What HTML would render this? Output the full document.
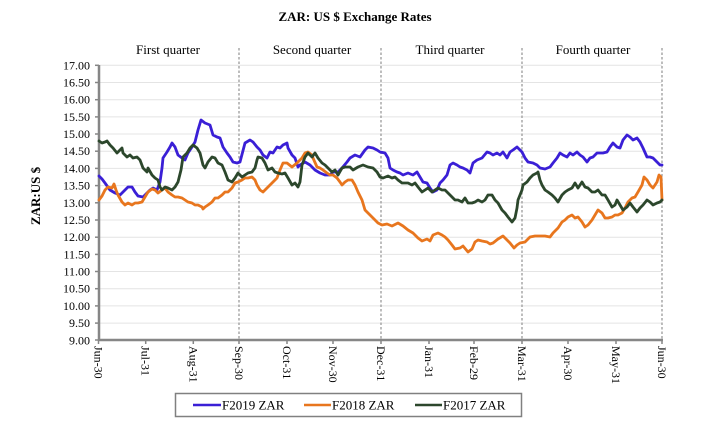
<!DOCTYPE html>
<html><head><meta charset="utf-8"><style>
html,body{margin:0;padding:0;background:#fff;}
svg{display:block;font-family:"Liberation Serif",serif;}
</style></head><body>
<svg width="710" height="434" viewBox="0 0 710 434" xmlns="http://www.w3.org/2000/svg">
<rect width="710" height="434" fill="#fff"/>
<text x="355" y="21" font-size="13" font-weight="bold" text-anchor="middle" fill="#000">ZAR: US $ Exchange Rates</text>
<!-- gridlines -->
<g stroke="#e4e4e4" stroke-width="1">
<line x1="99" x2="662" y1="65.3" y2="65.3"/><line x1="99" x2="662" y1="82.5" y2="82.5"/>
<line x1="99" x2="662" y1="99.7" y2="99.7"/><line x1="99" x2="662" y1="116.9" y2="116.9"/>
<line x1="99" x2="662" y1="134" y2="134"/><line x1="99" x2="662" y1="151.2" y2="151.2"/>
<line x1="99" x2="662" y1="168.4" y2="168.4"/><line x1="99" x2="662" y1="185.6" y2="185.6"/>
<line x1="99" x2="662" y1="202.8" y2="202.8"/><line x1="99" x2="662" y1="220" y2="220"/>
<line x1="99" x2="662" y1="237.2" y2="237.2"/><line x1="99" x2="662" y1="254.4" y2="254.4"/>
<line x1="99" x2="662" y1="271.5" y2="271.5"/><line x1="99" x2="662" y1="288.7" y2="288.7"/>
<line x1="99" x2="662" y1="305.9" y2="305.9"/><line x1="99" x2="662" y1="323.1" y2="323.1"/>
</g>
<!-- quarter dashed lines -->
<g stroke="#9a9a9a" stroke-width="1.3" stroke-dasharray="2.5,2">
<line x1="239" x2="239" y1="48" y2="340"/><line x1="381" x2="381" y1="48" y2="340"/>
<line x1="522" x2="522" y1="48" y2="340"/><line x1="662" x2="662" y1="48" y2="340"/>
</g>
<g font-size="13" text-anchor="middle" fill="#000">
<text x="168" y="54">First quarter</text><text x="312" y="54">Second quarter</text>
<text x="450" y="54">Third quarter</text><text x="593" y="54">Fourth quarter</text>
</g>
<!-- y labels -->
<g font-size="12" text-anchor="end" fill="#000">
<text x="90" y="69.3">17.00</text><text x="90" y="86.5">16.50</text><text x="90" y="103.7">16.00</text>
<text x="90" y="120.9">15.50</text><text x="90" y="138">15.00</text><text x="90" y="155.2">14.50</text>
<text x="90" y="172.4">14.00</text><text x="90" y="189.6">13.50</text><text x="90" y="206.8">13.00</text>
<text x="90" y="224">12.50</text><text x="90" y="241.2">12.00</text><text x="90" y="258.4">11.50</text>
<text x="90" y="275.5">11.00</text><text x="90" y="292.7">10.50</text><text x="90" y="309.9">10.00</text>
<text x="90" y="327.1">9.50</text><text x="90" y="344.3">9.00</text>
</g>
<text transform="translate(40,196) rotate(-90)" font-size="13" font-weight="bold" text-anchor="middle" fill="#000">ZAR:US $</text>
<!-- axes -->
<g stroke="#868686" stroke-width="1.5">
<line x1="95" x2="99" y1="65.3" y2="65.3"/><line x1="95" x2="99" y1="82.5" y2="82.5"/>
<line x1="95" x2="99" y1="99.7" y2="99.7"/><line x1="95" x2="99" y1="116.9" y2="116.9"/>
<line x1="95" x2="99" y1="134" y2="134"/><line x1="95" x2="99" y1="151.2" y2="151.2"/>
<line x1="95" x2="99" y1="168.4" y2="168.4"/><line x1="95" x2="99" y1="185.6" y2="185.6"/>
<line x1="95" x2="99" y1="202.8" y2="202.8"/><line x1="95" x2="99" y1="220" y2="220"/>
<line x1="95" x2="99" y1="237.2" y2="237.2"/><line x1="95" x2="99" y1="254.4" y2="254.4"/>
<line x1="95" x2="99" y1="271.5" y2="271.5"/><line x1="95" x2="99" y1="288.7" y2="288.7"/>
<line x1="95" x2="99" y1="305.9" y2="305.9"/><line x1="95" x2="99" y1="323.1" y2="323.1"/>
<line x1="95" x2="99" y1="340" y2="340"/>
<line x1="98.5" x2="98.5" y1="340" y2="344"/><line x1="145.7" x2="145.7" y1="340" y2="344"/>
<line x1="193.3" x2="193.3" y1="340" y2="344"/><line x1="239" x2="239" y1="340" y2="344"/>
<line x1="287" x2="287" y1="340" y2="344"/><line x1="333" x2="333" y1="340" y2="344"/>
<line x1="381" x2="381" y1="340" y2="344"/><line x1="429" x2="429" y1="340" y2="344"/>
<line x1="474" x2="474" y1="340" y2="344"/><line x1="522" x2="522" y1="340" y2="344"/>
<line x1="568" x2="568" y1="340" y2="344"/><line x1="616" x2="616" y1="340" y2="344"/>
<line x1="662" x2="662" y1="340" y2="344"/>
</g>
<line x1="99" x2="99" y1="65" y2="341" stroke="#868686" stroke-width="2.5"/>
<line x1="98" x2="663" y1="340" y2="340" stroke="#868686" stroke-width="2.5"/>
<!-- x labels -->
<g font-size="12" fill="#000">
<text transform="translate(94.5,346) rotate(90)">Jun-30</text>
<text transform="translate(141.7,346) rotate(90)">Jul-31</text>
<text transform="translate(189.3,346) rotate(90)">Aug-31</text>
<text transform="translate(235,346) rotate(90)">Sep-30</text>
<text transform="translate(283,346) rotate(90)">Oct-31</text>
<text transform="translate(329,346) rotate(90)">Nov-30</text>
<text transform="translate(377,346) rotate(90)">Dec-31</text>
<text transform="translate(425,346) rotate(90)">Jan-31</text>
<text transform="translate(470,346) rotate(90)">Feb-29</text>
<text transform="translate(518,346) rotate(90)">Mar-31</text>
<text transform="translate(564,346) rotate(90)">Apr-30</text>
<text transform="translate(612,346) rotate(90)">May-31</text>
<text transform="translate(658,346) rotate(90)">Jun-30</text>
</g>
<!-- series -->
<g fill="none" stroke-width="2.8" stroke-linejoin="round" stroke-linecap="round">
<polyline stroke="#3a1fd6" points="99,176 102,179 105,183 110,190 115,193 120,195 125,190 128,187 132,187 135,192 138,196 143,197 147,193 150,190 153,188 157,190 160,182 162,168 163,158 167,152 170,147 172,143 175,147 178,155 182,158 185,160 188,153 192,147 195,142 198,130 201,120 205,123 210,125 213,135 217,137 220,138 223,147 227,153 230,157 233,162 237,163 240,162 245,143 250,140 253,142 257,147 260,150 263,155 267,158 270,152 273,153 277,147 280,148 283,145 287,143 288,148 292,155 295,158 298,167 300,165 305,162 310,165 315,170 320,173 325,175 330,175 333,172 338,172 342,168 347,162 350,158 355,155 360,157 365,150 368,147 373,148 377,150 380,152 385,153 388,158 390,168 393,170 397,172 400,173 403,175 408,173 413,175 417,172 420,177 423,182 427,183 430,188 433,192 437,190 440,183 443,180 447,175 450,165 453,163 457,165 460,167 463,168 467,170 470,173 473,163 477,160 482,158 487,152 490,153 493,155 497,153 500,155 503,152 507,158 510,152 513,150 517,147 520,150 522,152 525,158 528,162 533,163 537,165 540,168 545,169 550,167 553,163 557,158 560,153 563,155 567,157 570,153 573,155 577,152 580,155 583,157 587,162 590,158 593,157 597,153 600,153 603,153 607,152 610,147 613,143 617,147 620,148 623,140 627,135 630,137 633,140 637,138 640,142 643,148 647,157 650,157 653,158 657,162 660,165 662,165"/>
<polyline stroke="#e8761e" points="99,200 102,196 105,190 108,187 112,188 114,184 116,190 118,195 122,202 125,205 128,203 132,205 135,203 138,203 142,202 145,197 148,192 152,189 155,190 158,193 162,190 165,188 168,192 172,195 175,197 178,197 182,198 185,200 188,202 192,203 195,205 198,205 202,207 203,209 205,207 208,205 212,202 215,198 218,198 222,195 225,192 228,192 232,188 235,183 238,182 242,180 245,178 248,178 252,177 255,180 257,185 260,190 263,192 267,188 270,185 273,182 277,178 280,170 283,163 287,163 292,167 297,163 302,158 305,153 308,152 312,155 313,158 317,167 320,168 323,170 327,173 330,175 333,175 337,178 340,182 342,185 345,182 348,180 352,180 355,185 358,192 362,200 365,210 370,215 375,220 378,223 382,225 387,224 392,226 398,223 403,226 408,230 413,233 418,238 422,241 427,239 430,241 433,235 438,233 442,235 445,237 448,240 452,245 455,249 460,248 463,246 468,252 472,249 475,242 478,240 482,241 487,242 490,244 493,243 498,239 503,236 507,240 510,243 514,248 517,245 520,243 525,242 530,237 535,236 540,236 545,236 550,237 553,233 558,228 562,222 565,220 568,217 572,215 575,218 578,217 582,222 585,227 588,225 592,220 595,215 598,210 602,213 605,218 608,218 612,217 615,215 618,215 622,213 625,208 628,202 632,198 635,197 638,192 642,185 644,177 647,180 650,185 653,188 657,182 659,175 661,177 662,200"/>
<polyline stroke="#2c472c" points="99,141 102,143 105,142 107,141 110,145 113,148 117,153 120,150 122,148 123,153 127,157 130,155 133,158 137,157 140,160 143,168 147,172 148,168 152,175 155,178 158,180 160,187 162,190 165,187 168,188 172,190 175,187 178,182 181,170 183,157 187,153 190,148 193,145 197,148 200,153 203,165 205,168 208,162 212,157 215,158 218,163 222,165 225,172 228,180 232,182 235,178 238,173 242,177 245,175 248,173 252,172 255,168 257,160 258,157 262,158 265,163 268,170 272,168 275,172 278,173 282,174 285,173 288,178 292,185 295,183 298,187 300,182 302,165 305,157 308,153 312,157 315,153 318,158 322,163 325,165 328,168 332,172 335,170 338,175 342,168 345,167 350,167 353,170 358,167 363,165 368,167 373,168 377,172 380,177 383,178 388,176 392,178 395,177 398,180 402,183 405,183 408,183 412,185 415,183 418,187 422,192 425,190 428,188 432,192 435,190 438,188 442,190 445,190 448,193 452,197 455,200 458,200 462,202 465,198 468,203 472,203 475,202 478,200 482,202 485,200 488,195 492,195 495,200 498,203 502,210 505,213 508,217 512,222 515,218 517,208 518,200 520,195 522,190 523,185 527,182 530,178 533,175 537,173 538,172 540,180 542,185 545,190 548,192 552,195 555,198 558,202 562,195 565,192 568,190 572,188 575,183 578,188 582,182 585,187 588,188 592,192 595,192 598,190 602,195 605,195 608,200 612,207 615,205 617,200 620,205 623,210 627,207 630,203 633,207 637,212 640,208 643,205 647,200 650,202 653,205 657,203 660,202 662,200"/>
</g>
<!-- legend -->
<rect x="175.5" y="393.5" width="346" height="23" fill="#fff" stroke="#808080" stroke-width="1.5"/>
<g stroke-width="2.5">
<line x1="193" x2="221" y1="405" y2="405" stroke="#3a1fd6"/>
<line x1="304" x2="331" y1="405" y2="405" stroke="#e8761e"/>
<line x1="415" x2="442" y1="405" y2="405" stroke="#2c472c"/>
</g>
<g font-size="13" fill="#000">
<text x="222" y="409.5">F2019 ZAR</text>
<text x="332" y="409.5">F2018 ZAR</text>
<text x="443" y="409.5">F2017 ZAR</text>
</g>
</svg>
</body></html>
